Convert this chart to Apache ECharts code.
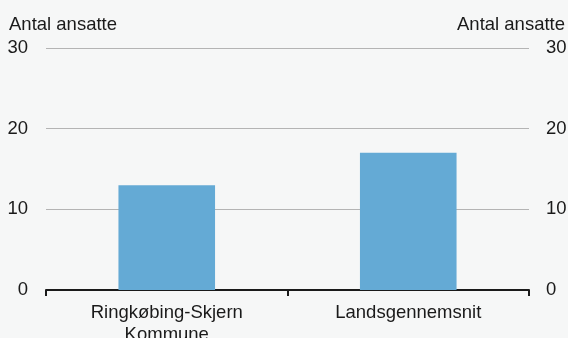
<!DOCTYPE html>
<html><head><meta charset="utf-8">
<script src="https://cdn.jsdelivr.net/npm/echarts@6/dist/echarts.min.js"></script>
<style>html,body{margin:0;padding:0;background:#f6f7f7;}#c{width:568px;height:338px;}</style>
</head><body><div id="c"></div>
<script>
const categories = ['Ringkøbing-Skjern\nKommune', 'Landsgennemsnit'];
const values = [13, 17];
const yTicks = [0, 10, 20, 30];
const axisName = 'Antal ansatte';

const chart = echarts.init(document.getElementById('c'), null, {renderer: 'canvas'});
const font = {fontFamily: 'Liberation Sans, Arial, sans-serif', fontSize: 18.5, color: '#1a1a1a'};
function yAx(pos) {
  return {
    type: 'value', position: pos, min: yTicks[0], max: yTicks[yTicks.length - 1], interval: 10,
    name: axisName, nameLocation: 'end', nameGap: 14,
    nameTextStyle: Object.assign({}, font, pos === 'left' ? {align: 'left', padding: [0, 0, 0, -37]} : {align: 'right', padding: [0, -36, 0, 0]}),
    axisLine: {show: false}, axisTick: {show: false},
    axisLabel: Object.assign({}, font, pos === 'left' ? {align: 'right', margin: 18} : {align: 'left', margin: 17}),
    splitLine: {show: pos === 'left', lineStyle: {color: '#b4b4b4', width: 1}}
  };
}
chart.setOption({
  backgroundColor: '#f6f7f7',
  animation: false,
  grid: {left: 46, right: 39, top: 48, bottom: 48, containLabel: false, outerBoundsMode: 'none'},
  xAxis: {
    type: 'category', data: categories,
    axisLine: {lineStyle: {color: '#1a1a1a', width: 2}},
    axisTick: {show: true, length: 6, lineStyle: {color: '#1a1a1a', width: 2}},
    axisLabel: Object.assign({}, font, {margin: 12, lineHeight: 22})
  },
  yAxis: [yAx('left'), yAx('right')],
  series: [{
    type: 'bar', data: values, barWidth: '40%',
    itemStyle: {color: '#64aad5'}
  }]
});
</script></body></html>
